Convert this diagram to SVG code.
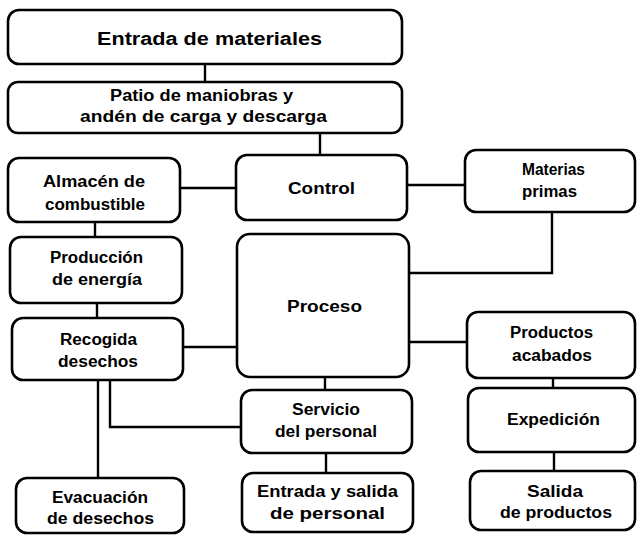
<svg xmlns="http://www.w3.org/2000/svg" width="637" height="535" viewBox="0 0 637 535">
<style>
.box{fill:#fff;stroke:#000;stroke-width:2.6}
.c{fill:none;stroke:#000;stroke-width:2.4}
text{font-family:"Liberation Sans",Arial,sans-serif;font-weight:bold;font-size:16px;fill:#000}
.big{font-size:18px}
</style>
<rect width="637" height="535" fill="#fff"/>
<g id="connectors">
<path class="c" d="M205 64V82"/>
<path class="c" d="M320 133V155"/>
<path class="c" d="M180 188H236"/>
<path class="c" d="M407 185H465"/>
<path class="c" d="M95 222V237"/>
<path class="c" d="M552 212V273H409"/>
<path class="c" d="M97 303V318"/>
<path class="c" d="M183 347H237"/>
<path class="c" d="M409 342H467"/>
<path class="c" d="M325 377V390"/>
<path class="c" d="M110 380V427H241"/>
<path class="c" d="M98 380V478"/>
<path class="c" d="M326 453V473"/>
<path class="c" d="M553 378V388"/>
<path class="c" d="M554 452V471"/>
</g>
<g id="n1"><rect class="box" x="8" y="10" width="394" height="54" rx="11"/><text class="big" x="97" y="45" textLength="225" lengthAdjust="spacingAndGlyphs">Entrada de materiales</text></g>
<g id="n2"><rect class="box" x="8" y="82" width="394" height="51" rx="10"/><text x="110" y="101" textLength="183" lengthAdjust="spacingAndGlyphs">Patio de maniobras y</text><text x="80" y="122" textLength="247" lengthAdjust="spacingAndGlyphs">andén de carga y descarga</text></g>
<g id="n3"><rect class="box" x="8" y="158" width="172" height="64" rx="11"/><text x="43" y="187" textLength="102" lengthAdjust="spacingAndGlyphs">Almacén de</text><text x="45" y="210" textLength="100" lengthAdjust="spacingAndGlyphs">combustible</text></g>
<g id="n4"><rect class="box" x="236" y="155" width="171" height="65" rx="11"/><text x="288" y="194" textLength="67" lengthAdjust="spacingAndGlyphs">Control</text></g>
<g id="n5"><rect class="box" x="465" y="150" width="170" height="62" rx="11"/><text x="522" y="175" textLength="63" lengthAdjust="spacingAndGlyphs">Materias</text><text x="522" y="197" textLength="55" lengthAdjust="spacingAndGlyphs">primas</text></g>
<g id="n6"><rect class="box" x="10" y="237" width="172" height="66" rx="11"/><text x="50" y="263" textLength="93" lengthAdjust="spacingAndGlyphs">Producción</text><text x="52" y="285" textLength="90" lengthAdjust="spacingAndGlyphs">de energía</text></g>
<g id="n7"><rect class="box" x="237" y="234" width="172" height="143" rx="13"/><text x="287" y="312" textLength="75" lengthAdjust="spacingAndGlyphs">Proceso</text></g>
<g id="n8"><rect class="box" x="12" y="318" width="171" height="62" rx="11"/><text x="60" y="345" textLength="77" lengthAdjust="spacingAndGlyphs">Recogida</text><text x="58" y="367" textLength="80" lengthAdjust="spacingAndGlyphs">desechos</text></g>
<g id="n9"><rect class="box" x="467" y="312" width="168" height="66" rx="11"/><text x="510" y="338" textLength="83" lengthAdjust="spacingAndGlyphs">Productos</text><text x="512" y="361" textLength="80" lengthAdjust="spacingAndGlyphs">acabados</text></g>
<g id="n10"><rect class="box" x="241" y="390" width="171" height="63" rx="11"/><text x="292" y="415" textLength="68" lengthAdjust="spacingAndGlyphs">Servicio</text><text x="275" y="437" textLength="102" lengthAdjust="spacingAndGlyphs">del personal</text></g>
<g id="n11"><rect class="box" x="468" y="388" width="167" height="64" rx="11"/><text x="507" y="425" textLength="93" lengthAdjust="spacingAndGlyphs">Expedición</text></g>
<g id="n12"><rect class="box" x="16" y="478" width="168" height="55" rx="11"/><text x="52" y="503" textLength="96" lengthAdjust="spacingAndGlyphs">Evacuación</text><text x="47" y="524" textLength="107" lengthAdjust="spacingAndGlyphs">de desechos</text></g>
<g id="n13"><rect class="box" x="242" y="473" width="171" height="59" rx="11"/><text x="257" y="497" textLength="141" lengthAdjust="spacingAndGlyphs">Entrada y salida</text><text x="270" y="519" textLength="115" lengthAdjust="spacingAndGlyphs">de personal</text></g>
<g id="n14"><rect class="box" x="470" y="471" width="165" height="59" rx="11"/><text x="527" y="497" textLength="56" lengthAdjust="spacingAndGlyphs">Salida</text><text x="500" y="518" textLength="112" lengthAdjust="spacingAndGlyphs">de productos</text></g>
</svg>
